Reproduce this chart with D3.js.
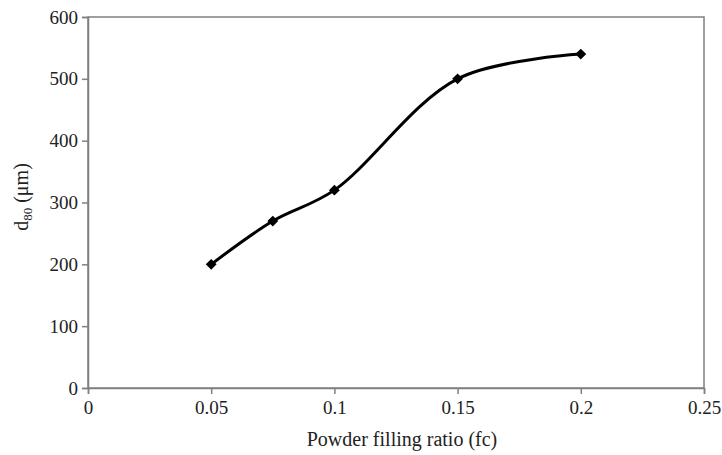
<!DOCTYPE html>
<html><head><meta charset="utf-8">
<script src="https://cdn.jsdelivr.net/npm/d3@7"></script>
<style>body{margin:0;background:#fff}svg{display:block}</style>
</head><body>
<script>
const xValues = [0.05, 0.075, 0.1, 0.15, 0.2];
const yValues = [200, 270, 320, 500, 540];
const xTicks = [0, 0.05, 0.1, 0.15, 0.2, 0.25];
const yTicks = [0, 100, 200, 300, 400, 500, 600];
const xTitle = "Powder filling ratio (fc)";

const W = 722, H = 455;
const m = {left: 88, right: 18, top: 17, bottom: 67};
const svg = d3.select("body").append("svg").attr("width", W).attr("height", H)
  .attr("font-family", "Liberation Serif");
const x = d3.scaleLinear().domain([0, 0.25]).range([m.left, W - m.right]);
const y = d3.scaleLinear().domain([0, 600]).range([H - m.bottom, m.top]);
const font = "Liberation Serif";
const fs = 19;
const axisColor = "#808080";

svg.append("rect").attr("x", x(0)).attr("y", y(600)).attr("width", x(0.25) - x(0)).attr("height", y(0) - y(600))
  .attr("fill", "none").attr("stroke", axisColor).attr("stroke-width", 1.5);

const xa = svg.append("g").attr("transform", `translate(0,${y(0)})`)
  .call(d3.axisBottom(x).tickValues(xTicks).tickFormat(d => String(d)).tickSize(6).tickPadding(7));
const ya = svg.append("g").attr("transform", `translate(${x(0)},0)`)
  .call(d3.axisLeft(y).tickValues(yTicks).tickFormat(d => String(d)).tickSize(6).tickPadding(4));
[xa, ya].forEach(a => {
  a.attr("font-family", font).attr("font-size", fs);
  a.select(".domain").attr("stroke", axisColor).attr("stroke-width", 1.5);
  a.selectAll(".tick line").attr("stroke", axisColor).attr("stroke-width", 1.5);
  a.selectAll("text").attr("fill", "#222");
});

const pts = xValues.map((v, i) => [x(v), y(yValues[i])]);
svg.append("path").attr("d", d3.line().curve(d3.curveCatmullRom.alpha(0.5))(pts))
  .attr("fill", "none").attr("stroke", "#000").attr("stroke-width", 3);
svg.selectAll(".pt").data(pts).enter().append("path")
  .attr("transform", d => `translate(${d[0]},${d[1]})`)
  .attr("d", d3.symbol().type(d3.symbolDiamond2).size(75)).attr("fill", "#000");

svg.append("text").attr("x", 402).attr("y", 446).attr("text-anchor", "middle")
  .attr("font-family", font).attr("font-size", 20).attr("fill", "#222").text(xTitle);

const yt = svg.append("text").attr("transform", `translate(28,197) rotate(-90)`)
  .attr("text-anchor", "middle").attr("font-family", font).attr("font-size", 20).attr("fill", "#222");
yt.append("tspan").text("d");
yt.append("tspan").attr("font-size", 13).attr("dy", 4).text("80");
yt.append("tspan").attr("dy", -4).text(" (μm)");
</script>
</body></html>
